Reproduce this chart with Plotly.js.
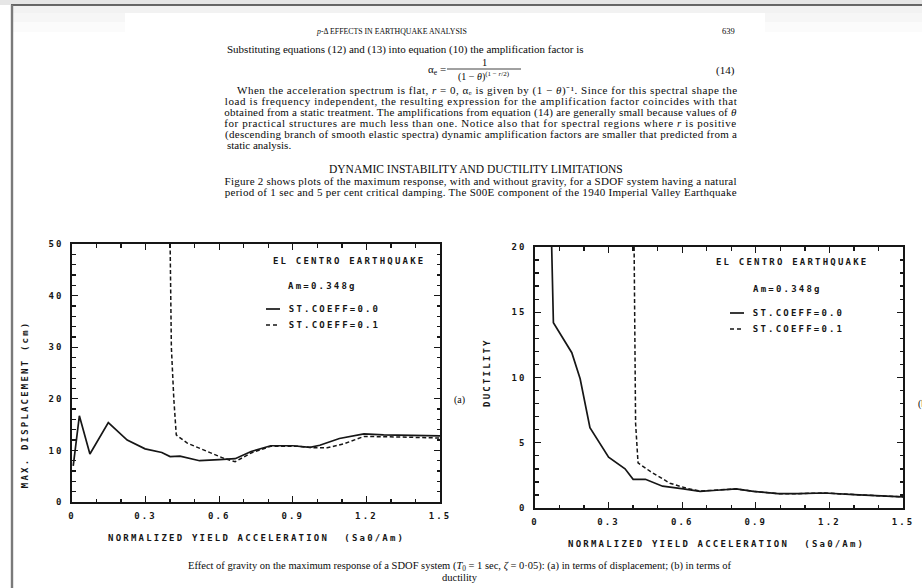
<!DOCTYPE html>
<html>
<head>
<meta charset="utf-8">
<script src="https://cdn.plot.ly/plotly-3.0.1.min.js"></script>
<style>
html,body{margin:0;padding:0;background:#fff;}
#chart{width:922px;height:588px;}
.xtick text,.ytick text,.x2tick text,.y2tick text{letter-spacing:2.1px;}
</style>
</head>
<body>
<div id="chart"></div>
<script>
// ---------- data ----------
const xRange = [0, 1.5];
const dispRange = [0, 50];
const ductRange = [0, 20];

// (a) maximum displacement (cm)
const dispSolidX = [0.005, 0.03, 0.073, 0.148, 0.225, 0.298, 0.366, 0.40, 0.44, 0.52, 0.60, 0.665, 0.73, 0.81, 0.90, 0.97, 1.01, 1.09, 1.19, 1.27, 1.5];
const dispSolidY = [7.0, 16.7, 9.3, 15.4, 12.0, 10.3, 9.6, 8.8, 8.9, 8.0, 8.2, 8.4, 9.8, 10.9, 10.9, 10.6, 11.0, 12.3, 13.2, 13.0, 12.8];
const dispDashX  = [0.40, 0.405, 0.415, 0.425, 0.47, 0.55, 0.617, 0.665, 0.73, 0.81, 0.92, 0.99, 1.04, 1.11, 1.19, 1.33, 1.5];
const dispDashY  = [50, 30, 20, 13.0, 11.4, 9.8, 8.5, 7.8, 9.5, 10.8, 10.8, 10.5, 10.5, 11.3, 12.7, 12.6, 12.4];

// (b) ductility
const ductSolidX = [0.068, 0.075, 0.15, 0.184, 0.224, 0.30, 0.367, 0.40, 0.45, 0.52, 0.605, 0.673, 0.74, 0.82, 0.89, 0.99, 1.07, 1.18, 1.30, 1.5];
const ductSolidY = [20, 14.2, 11.9, 9.9, 6.15, 3.9, 3.0, 2.2, 2.2, 1.67, 1.46, 1.28, 1.36, 1.46, 1.28, 1.1, 1.1, 1.15, 1.03, 0.85];
const ductDashX  = [0.404, 0.41, 0.42, 0.47, 0.55, 0.62, 0.673, 0.74, 0.82, 0.89, 0.99, 1.07, 1.18, 1.30, 1.5];
const ductDashY  = [20, 6.5, 3.46, 2.8, 1.9, 1.5, 1.3, 1.38, 1.46, 1.28, 1.1, 1.1, 1.15, 1.03, 0.85];

const seriesNames = ["ST.COEFF=0.0", "ST.COEFF=0.1"];
const quakeLabel = "EL CENTRO EARTHQUAKE";
const amLabel = "Am=0.348g";
const xTitle = "NORMALIZED YIELD ACCELERATION  (Sa0/Am)";
const dispTitle = "MAX. DISPLACEMENT (cm)";
const ductTitle = "DUCTILITY";

const pageHeader = "<i>p</i>-Δ EFFECTS IN EARTHQUAKE ANALYSIS";
const pageNumber = "639";
const introLine = "Substituting equations (12) and (13) into equation (10) the amplification factor is";
const paraLines = [
  "When the acceleration spectrum is flat, <i>r</i> = 0, αₑ is given by (1 − <i>θ</i>)⁻¹. Since for this spectral shape the",
  "load is frequency independent, the resulting expression for the amplification factor coincides with that",
  "obtained from a static treatment. The amplifications from equation (14) are generally small because values of <i>θ</i>",
  "for practical structures are much less than one. Notice also that for spectral regions where <i>r</i> is positive",
  "(descending branch of smooth elastic spectra) dynamic amplification factors are smaller that predicted from a",
  "static analysis."
];
const heading = "DYNAMIC INSTABILITY AND DUCTILITY LIMITATIONS";
const figLines = [
  "Figure 2 shows plots of the maximum response, with and without gravity, for a SDOF system having a natural",
  "period of 1 sec and 5 per cent critical damping. The S00E component of the 1940 Imperial Valley Earthquake"
];
const captionLines = [
  "Effect of gravity on the maximum response of a SDOF system (<i>T</i><sub>0</sub> = 1 sec, <i>ζ</i> = 0·05): (a) in terms of displacement; (b) in terms of",
  "ductility"
];

// ---------- helpers ----------
const W = 922, H = 588;
const px = v => v / W;
const py = v => 1 - v / H;
const INK = '#161616';
const MONO = 'DejaVu Sans Mono, monospace';
const SERIF = 'Liberation Serif, Times New Roman, serif';
const COL_L = 225, COL_R = 737;

const traces = [
  {x: dispSolidX, y: dispSolidY, xaxis: 'x', yaxis: 'y', mode: 'lines', name: seriesNames[0],
   line: {color: INK, width: 1.7}, showlegend: false},
  {x: dispDashX, y: dispDashY, xaxis: 'x', yaxis: 'y', mode: 'lines', name: seriesNames[1],
   line: {color: INK, width: 1.5, dash: '4px,2.5px'}, showlegend: false},
  {x: ductSolidX, y: ductSolidY, xaxis: 'x2', yaxis: 'y2', mode: 'lines', name: seriesNames[0],
   line: {color: INK, width: 1.7}, showlegend: false},
  {x: ductDashX, y: ductDashY, xaxis: 'x2', yaxis: 'y2', mode: 'lines', name: seriesNames[1],
   line: {color: INK, width: 1.5, dash: '4px,2.5px'}, showlegend: false}
];

function xAx(domain, anchor) {
  return {
    domain: domain, range: xRange, anchor: anchor,
    tick0: 0, dtick: 0.3, ticks: 'inside', ticklen: 6, tickwidth: 1.4, tickcolor: INK,
    mirror: 'ticks', showline: true, linecolor: INK, linewidth: 1.6,
    showgrid: false, zeroline: false, fixedrange: true,
    minor: {ticks: 'inside', tick0: 0, dtick: 0.1, ticklen: 3.5, tickwidth: 1.3, tickcolor: INK, showgrid: false},
    tickfont: {family: MONO, size: 9, color: INK, weight: 'bold'},
    ticklabelstandoff: 5
  };
}
function yAx(domain, anchor, range, dtick, minorD) {
  return {
    domain: domain, range: range, anchor: anchor,
    tick0: 0, dtick: dtick, ticks: 'inside', ticklen: 6, tickwidth: 1.4, tickcolor: INK,
    mirror: 'ticks', showline: true, linecolor: INK, linewidth: 1.6,
    showgrid: false, zeroline: false, fixedrange: true,
    minor: {ticks: 'inside', tick0: 0, dtick: minorD, ticklen: 3.5, tickwidth: 1.3, tickcolor: INK, showgrid: false},
    tickfont: {family: MONO, size: 9, color: INK, weight: 'bold'},
    ticklabelstandoff: 5
  };
}

const annotations = [];
const monoIdx = [];
function ann(o, mono) {
  const a = Object.assign({xref: 'paper', yref: 'paper', showarrow: false}, o);
  if (mono) monoIdx.push(annotations.length);
  annotations.push(a);
}
// mono labels are centred so that CSS letter-spacing grows symmetrically
function monoText(text, xc, y, extra) {
  ann(Object.assign({text: text, x: px(xc), y: py(y), xanchor: 'center', yanchor: 'middle',
    font: {family: MONO, size: 9, color: INK, weight: 'bold'}}, extra || {}), true);
}
function serifText(text, x, y, xanchor, size, extra) {
  ann(Object.assign({text: text, x: px(x), y: py(y), xanchor: xanchor, yanchor: 'middle',
    font: {family: SERIF, size: size, color: '#0a0a0a'}}, extra || {}), false);
}

// chart (a) texts
monoText(quakeLabel, 349, 261);
monoText(amLabel, 322, 286);
monoText(seriesNames[0], 334, 309);
monoText(seriesNames[1], 334, 325);
monoText(xTitle, 256, 538);
monoText(dispTitle, 25, 405, {textangle: -90});
serifText('(a)', 452, 400, 'left', 10);

// chart (b) texts
monoText(quakeLabel, 792, 262);
monoText(amLabel, 787, 289);
monoText(seriesNames[0], 798, 313);
monoText(seriesNames[1], 798, 329);
monoText(xTitle, 716, 544);
monoText(ductTitle, 487, 373, {textangle: -90});
serifText('(b)', 916, 404, 'left', 10);

// page text
serifText(pageHeader, 391, 31, 'center', 7.8);
serifText(pageNumber, COL_R, 31, 'right', 8.5);
serifText(introLine, COL_L, 50, 'left', 11);
serifText('α<sub>e</sub> =', 426, 70, 'left', 11);
serifText('1', 484, 63, 'center', 10.5);
serifText('(1 − <i>θ</i>)<sup>(1 − <i>r</i>/2)</sup>', 484, 76, 'center', 10);
serifText('(14)', COL_R, 70, 'right', 11);
const justify = [];
paraLines.forEach((t, i) => {
  const x0 = i === 0 ? 237 : COL_L;
  if (i < paraLines.length - 1) {
    justify.push({idx: annotations.length, len: COL_R - x0});
    serifText(t, (x0 + COL_R) / 2, 90 + i * 11, 'center', 11);
  } else {
    serifText(t, COL_L, 90 + i * 11, 'left', 11);
  }
});
serifText(heading, 476, 169, 'center', 11.5);
figLines.forEach((t, i) => {
  justify.push({idx: annotations.length, len: COL_R - COL_L});
  serifText(t, (COL_L + COL_R) / 2, 181 + i * 11, 'center', 11);
});
serifText(captionLines[0], 460, 566, 'center', 10.5);
serifText(captionLines[1], 460, 577, 'center', 10.5);

// shapes: page frame, fraction bar and legend samples
const shapes = [
  {type: 'rect', xref: 'paper', yref: 'paper', x0: 0, x1: 1, y0: py(0), y1: py(5), fillcolor: '#e6e6e6', line: {width: 0}, layer: 'below'},
  {type: 'rect', xref: 'paper', yref: 'paper', x0: px(12), x1: 1, y0: py(5), y1: py(13), fillcolor: '#f2f2f2', line: {width: 0}, layer: 'below'},
  {type: 'rect', xref: 'paper', yref: 'paper', x0: px(12), x1: 1, y0: py(13), y1: py(22), fillcolor: '#f6f6f6', line: {width: 0}, layer: 'below'},
  {type: 'rect', xref: 'paper', yref: 'paper', x0: px(12), x1: 1, y0: py(22), y1: py(32), fillcolor: '#fbfbfb', line: {width: 0}, layer: 'below'},
  {type: 'rect', xref: 'paper', yref: 'paper', x0: px(125), x1: px(765), y0: py(13), y1: py(32), fillcolor: '#ffffff', line: {width: 0}, layer: 'below'},
  {type: 'line', xref: 'paper', yref: 'paper', x0: px(11), x1: 1, y0: py(5), y1: py(5), line: {color: '#3a3a3a', width: 1.6}},
  {type: 'line', xref: 'paper', yref: 'paper', x0: px(12), x1: px(12), y0: py(5), y1: 0, line: {color: '#7a7a7a', width: 2.4}},
  {type: 'line', xref: 'paper', yref: 'paper', x0: px(447), x1: px(521), y0: py(69), y1: py(69), line: {color: '#111', width: 0.8}},
  {type: 'line', xref: 'paper', yref: 'paper', x0: px(266), x1: px(280), y0: py(309), y1: py(309), line: {color: INK, width: 1.7}},
  {type: 'line', xref: 'paper', yref: 'paper', x0: px(266), x1: px(280), y0: py(325), y1: py(325), line: {color: INK, width: 1.5, dash: '4px,3px'}},
  {type: 'line', xref: 'paper', yref: 'paper', x0: px(730), x1: px(744), y0: py(313), y1: py(313), line: {color: INK, width: 1.7}},
  {type: 'line', xref: 'paper', yref: 'paper', x0: px(730), x1: px(744), y0: py(329), y1: py(329), line: {color: INK, width: 1.5, dash: '4px,3px'}}
];

const css = monoIdx.map(i => '.annotation[data-index="' + i + '"] text{letter-spacing:2.2px;}').join('\n');
const st = document.createElement('style'); st.textContent = css; document.head.appendChild(st);

const layout = {
  width: W, height: H,
  margin: {l: 0, r: 0, t: 0, b: 0},
  paper_bgcolor: '#ffffff', plot_bgcolor: 'rgba(0,0,0,0)',
  showlegend: false,
  xaxis: xAx([px(72), px(440)], 'y'),
  yaxis: yAx([py(502), py(244)], 'x', dispRange, 10, 2),
  xaxis2: xAx([px(535), px(903)], 'y2'),
  yaxis2: yAx([py(508), py(247)], 'x2', ductRange, 5, 1),
  annotations: annotations,
  shapes: shapes
};

Plotly.newPlot('chart', traces, layout, {displayModeBar: false, staticPlot: true}).then(() => {
  justify.forEach(o => {
    const t = document.querySelector('.annotation[data-index="' + o.idx + '"] text');
    if (t) {
      t.setAttribute('textLength', String(o.len));
      t.setAttribute('lengthAdjust', 'spacing');
    }
  });
});
</script>
</body>
</html>
